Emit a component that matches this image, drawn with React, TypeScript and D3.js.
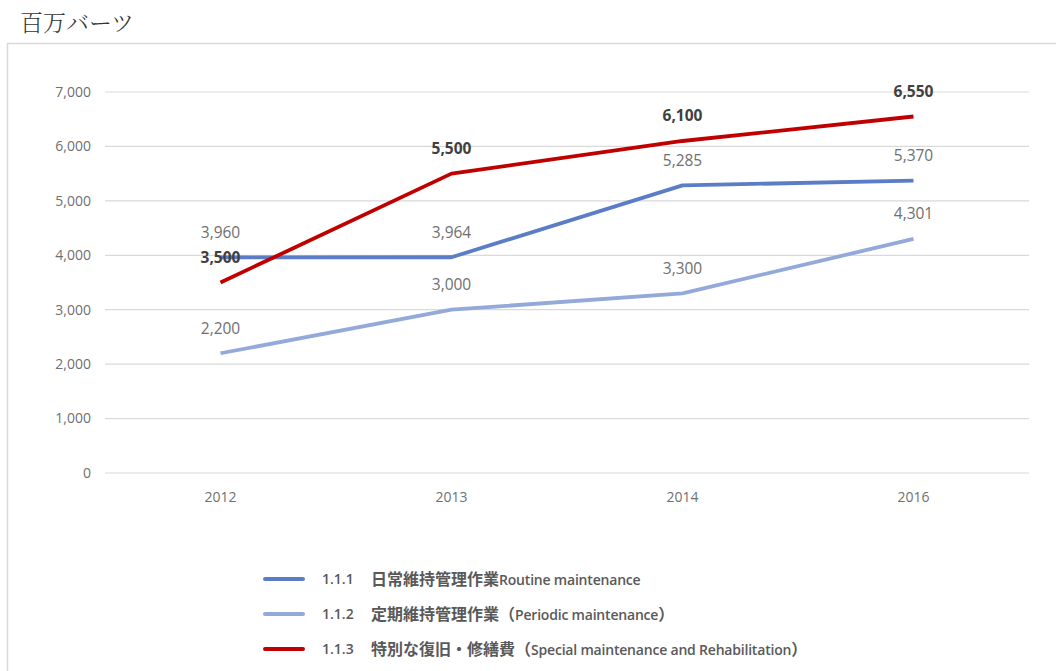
import React from "react";
import * as d3 from "d3";

const years = ["2012", "2013", "2014", "2016"];
const routine = [3960, 3964, 5285, 5370];
const periodic = [2200, 3000, 3300, 4301];
const special = [3500, 5500, 6100, 6550];
const yTicks = [0, 1000, 2000, 3000, 4000, 5000, 6000, 7000];
const unitLabel = "百万バーツ";
const legendNames = ["1.1.1", "1.1.2", "1.1.3"];
const legendTexts = [
  "日常維持管理作業Routine maintenance",
  "定期維持管理作業（Periodic maintenance）",
  "特別な復旧・修繕費（Special maintenance and Rehabilitation）",
];

const W = 1056;
const H = 671;
const plotLeft = 105;
const plotRight = 1029;
const yTop = 92;
const yBottom = 473;

const font = "'Open Sans', 'Noto Sans CJK JP', sans-serif";
const cjkFont = "'Noto Sans CJK JP', sans-serif";

function splitRuns(s: string) {
  return s.match(/[\u3000-\u9fff\uff00-\uffef]+|[^\u3000-\u9fff\uff00-\uffef]+/g) || [];
}
const isCjk = (s: string) => /[\u3000-\u9fff\uff00-\uffef]/.test(s);

export default function App() {
  const x = d3.scaleBand<string>().domain(years).range([plotLeft, plotRight]);
  const y = d3.scaleLinear().domain([0, 7000]).range([yBottom, yTop]);
  const cx = (d: string) => (x(d) as number) + x.bandwidth() / 2;
  const line = d3
    .line<number>()
    .x((_, i) => cx(years[i]))
    .y((v) => y(v));

  const series = [
    { name: legendNames[0], text: legendTexts[0], values: routine, color: "#5B7CC7", bold: false, labelColor: "#6f6f6f" },
    { name: legendNames[1], text: legendTexts[1], values: periodic, color: "#93A9DA", bold: false, labelColor: "#6f6f6f" },
    { name: legendNames[2], text: legendTexts[2], values: special, color: "#C00000", bold: true, labelColor: "#404040" },
  ];
  const fmt = d3.format(",");

  return (
    <svg
      width={W}
      height={H}
      style={{ position: "absolute", left: 0, top: 0, background: "#fff" }}
    >
      <text x={20} y={31} fontFamily="'Noto Serif CJK JP', serif" fontSize={23} fontWeight={300} fill="#333">
        {unitLabel}
      </text>
      <rect x={7.5} y={43.5} width={W + 10} height={H + 10} fill="none" stroke="#d9d9d9" strokeWidth={1.5} />
      {yTicks.map((t) => (
        <g key={t}>
          <line x1={plotLeft} x2={plotRight} y1={y(t)} y2={y(t)} stroke="#d9d9d9" strokeWidth={1.2} />
          <text
            x={91}
            y={y(t)}
            dy="0.35em"
            textAnchor="end"
            fontFamily={font}
            fontSize={14}
            fill="#707070"
          >
            {fmt(t)}
          </text>
        </g>
      ))}
      {years.map((yr) => (
        <text
          key={yr}
          x={cx(yr)}
          y={497}
          dy="0.35em"
          textAnchor="middle"
          fontFamily={font}
          fontSize={14}
          fill="#707070"
        >
          {yr}
        </text>
      ))}
      {series.map((s) => (
        <path
          key={s.name}
          d={line(s.values) || ""}
          fill="none"
          stroke={s.color}
          strokeWidth={3.8}
          strokeLinejoin="round"
        />
      ))}
      {series.map((s) =>
        s.values.map((v, i) => (
          <text
            key={s.name + i}
            x={cx(years[i])}
            y={y(v) - 25}
            dy="0.35em"
            textAnchor="middle"
            fontFamily={font}
            fontSize={15.5}
            fontWeight={s.bold ? 700 : 400}
            fill={s.labelColor}
          >
            {fmt(v)}
          </text>
        ))
      )}
      {series.map((s, i) => {
        const ly = 579 + i * 35;
        return (
          <g key={"lg" + i}>
            <line x1={265} x2={303} y1={ly} y2={ly} stroke={s.color} strokeWidth={4} strokeLinecap="round" />
            <text x={322} y={ly} dy="0.35em" fontFamily={font} fontSize={14} fontWeight={600} fill="#595959">
              {s.name}
            </text>
            <text x={371} y={ly} dy="0.35em" fontWeight={600} fill="#595959">
              {splitRuns(s.text).map((r, k) =>
                isCjk(r) ? (
                  <tspan key={k} fontFamily={cjkFont} fontSize={16}>
                    {r}
                  </tspan>
                ) : (
                  <tspan key={k} fontFamily={font} fontSize={14} letterSpacing={-0.2}>
                    {r}
                  </tspan>
                )
              )}
            </text>
          </g>
        );
      })}
    </svg>
  );
}
